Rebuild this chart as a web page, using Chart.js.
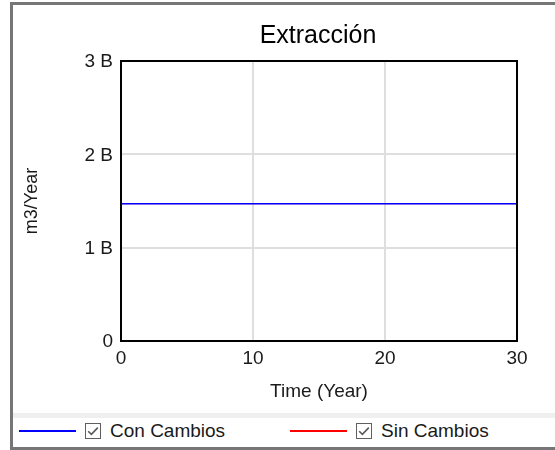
<!DOCTYPE html>
<html>
<head>
<meta charset="utf-8">
<title>Extracción</title>
<script src="https://cdn.jsdelivr.net/npm/chart.js@4/dist/chart.umd.min.js"></script>
<style>
  html, body { margin: 0; padding: 0; background: #ffffff; }
  body { width: 555px; height: 450px; overflow: hidden; position: relative;
         font-family: 'Liberation Sans', Arial, sans-serif; }
  #frame { position: absolute; left: 10px; top: 2px; width: 620px; height: 448px;
           box-sizing: border-box; border: 3px solid #767676; }
  #chart { position: absolute; left: 0; top: 0; }
  #sep { position: absolute; left: 13px; top: 413px; width: 560px; height: 5px; background: #efefef; }
  .swatch { position: absolute; top: 430px; height: 2px; width: 57px; }
  .box { position: absolute; top: 423px; width: 16px; height: 16px; }
  .lbl { position: absolute; top: 420px; font-size: 19px; line-height: 21px; color: #1a1a1a; white-space: nowrap; }
</style>
</head>
<body>
<div id="frame"></div>
<canvas id="chart" width="600" height="412"></canvas>
<div id="sep"></div>
<div id="legend"></div>
<script>
// Simulation output: Extracción (m3/Year) over time, two scenarios
const chartTitle  = 'Extracción';
const years       = [0, 5, 10, 15, 20, 25, 30];
const conCambios  = [1.47e9, 1.47e9, 1.47e9, 1.47e9, 1.47e9, 1.47e9, 1.47e9];
const sinCambios  = [1.47e9, 1.47e9, 1.47e9, 1.47e9, 1.47e9, 1.47e9, 1.47e9];
const seriesNames = ['Con Cambios', 'Sin Cambios'];
const seriesColors = ['#0000ff', '#ff0000'];
const yTicks = [0, 1e9, 2e9, 3e9];
const xTicks = [0, 10, 20, 30];

const FONT = "'Liberation Sans', Arial, sans-serif";
const INK = '#1a1a1a';

function points(values) {
  return years.map((t, i) => ({ x: t, y: values[i] }));
}

// black box around the plotting area, and the title centred over it
const framePlugin = {
  id: 'plotFrame',
  afterDatasetsDraw(chart) {
    const a = chart.chartArea, ctx = chart.ctx;
    ctx.save();
    ctx.strokeStyle = '#000000';
    ctx.lineWidth = 2;
    ctx.strokeRect(a.left, a.top, a.right - a.left, a.bottom - a.top);
    ctx.restore();
  },
  afterDraw(chart) {
    const a = chart.chartArea, ctx = chart.ctx;
    ctx.save();
    ctx.fillStyle = '#000000';
    ctx.font = '25px ' + FONT;
    ctx.textAlign = 'center';
    ctx.textBaseline = 'alphabetic';
    ctx.fillText(chartTitle, (a.left + a.right) / 2 - 1, a.top - 18);
    ctx.restore();
  }
};

new Chart(document.getElementById('chart'), {
  type: 'line',
  data: {
    datasets: [
      { label: seriesNames[0], data: points(conCambios), borderColor: seriesColors[0],
        borderWidth: 1.6, pointRadius: 0, fill: false, tension: 0 },
      { label: seriesNames[1], data: points(sinCambios), borderColor: seriesColors[1],
        borderWidth: 0.5, pointRadius: 0, fill: false, tension: 0 }
    ]
  },
  options: {
    responsive: false,
    animation: false,
    devicePixelRatio: 1,
    layout: { padding: { left: 21, right: 83, top: 61, bottom: 9 } },
    plugins: {
      legend: { display: false },
      tooltip: { enabled: false },
      title: { display: false }
    },
    scales: {
      x: {
        type: 'linear', min: 0, max: 30,
        afterBuildTicks(scale) { scale.ticks = xTicks.map(v => ({ value: v })); },
        afterFit(scale) { scale.height = 62; },
        grid: { color: '#dedede', lineWidth: 2, drawTicks: false },
        border: { display: false },
        ticks: { color: INK, padding: 6, font: { family: FONT, size: 19 }, maxRotation: 0 },
        title: { display: true, text: 'Time (Year)', color: INK, padding: 0,
                 font: { family: FONT, size: 19 } }
      },
      y: {
        type: 'linear', min: 0, max: 3e9,
        afterBuildTicks(scale) { scale.ticks = yTicks.map(v => ({ value: v })); },
        afterFit(scale) { scale.width = 100; },
        grid: { color: '#dedede', lineWidth: 2, drawTicks: false },
        border: { display: false },
        ticks: {
          color: INK, padding: 8, labelOffset: 1, font: { family: FONT, size: 19 },
          callback: v => v === 0 ? '0' : (v / 1e9) + ' B'
        },
        title: { display: true, text: 'm3/Year', color: INK, padding: 0,
                 font: { family: FONT, size: 18 } }
      }
    }
  },
  plugins: [framePlugin]
});

// legend row with checkboxes
const legendPos = [{ line: 19, box: 85, text: 110 }, { line: 290, box: 356, text: 381 }];
const legend = document.getElementById('legend');
seriesNames.forEach((name, i) => {
  const p = legendPos[i];
  const sw = document.createElement('div');
  sw.className = 'swatch';
  sw.style.left = p.line + 'px';
  sw.style.background = seriesColors[i];
  legend.appendChild(sw);
  const box = document.createElement('div');
  box.className = 'box';
  box.style.left = p.box + 'px';
  box.innerHTML = '<svg width="16" height="16" viewBox="0 0 16 16">' +
    '<rect x="0.5" y="0.5" width="15" height="15" fill="#ffffff" stroke="#5f5f5f"/>' +
    '<polyline points="3.2,8.2 6.4,11.4 12.8,4.6" fill="none" stroke="#5a5a5a" stroke-width="1.6"/></svg>';
  legend.appendChild(box);
  const t = document.createElement('div');
  t.className = 'lbl';
  t.style.left = p.text + 'px';
  t.textContent = name;
  legend.appendChild(t);
});
</script>
</body>
</html>
